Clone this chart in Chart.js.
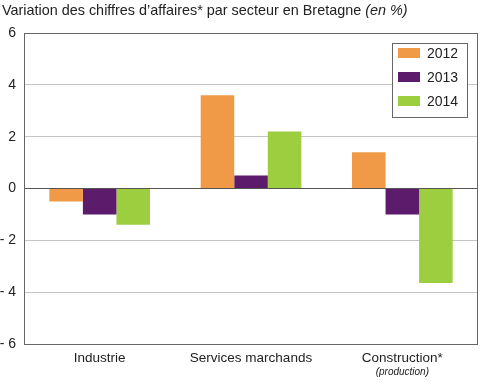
<!DOCTYPE html>
<html>
<head>
<meta charset="utf-8">
<script src="https://cdn.jsdelivr.net/npm/chart.js@4/dist/chart.umd.min.js"></script>
<style>
  html, body { margin: 0; padding: 0; background: #fff; }
  #wrap { width: 480px; height: 385px; position: relative; }
</style>
</head>
<body>
<div id="wrap"><canvas id="chart" width="480" height="385"></canvas></div>
<script>
const categories = ["Industrie", "Services marchands", "Construction*"];
const years = ["2012", "2013", "2014"];
const values2012 = [-0.5, 3.6, 1.4];
const values2013 = [-1.0, 0.5, -1.0];
const values2014 = [-1.4, 2.2, -3.65];
const colors = ["#f09a48", "#5c1b6b", "#9dce40"];
const yTicks = [-6, -4, -2, 0, 2, 4, 6];

const FONT = "'Liberation Sans', Arial, sans-serif";

const decor = {
  id: "decor",
  afterDraw(chart) {
    const ctx = chart.ctx;
    const a = chart.chartArea;
    ctx.save();
    // frame
    ctx.strokeStyle = "#666";
    ctx.lineWidth = 1;
    ctx.strokeRect(Math.round(a.left) + 0.5, Math.round(a.top) + 0.5,
      Math.round(a.right - a.left) - 1, Math.round(a.bottom - a.top));

    // title
    ctx.fillStyle = "#222";
    ctx.textBaseline = "middle";
    ctx.textAlign = "left";
    ctx.font = "14.4px " + FONT;
    const t = "Variation des chiffres d\u2019affaires* par secteur en Bretagne ";
    ctx.fillText(t, 2, 11);
    const w = ctx.measureText(t).width;
    ctx.font = "italic 14.4px " + FONT;
    ctx.fillText("(en %)", 2 + w, 11);

    // subtitle under Construction
    const x = chart.scales.x.getPixelForValue(2);
    ctx.textAlign = "center";
    ctx.font = "italic 10px " + FONT;
    ctx.fillText("(production)", x, 372);

    // legend box
    const lx = 392, ly = 43, lw = 75, lh = 74;
    ctx.fillStyle = "#fff";
    ctx.fillRect(lx, ly, lw, lh);
    ctx.strokeStyle = "#666";
    ctx.strokeRect(lx + 0.5, ly + 0.5, lw, lh);
    chart.data.datasets.forEach((ds, i) => {
      const yy = ly + 10 + i * 24;
      ctx.fillStyle = ds.backgroundColor;
      ctx.fillRect(lx + 6, yy - 5, 22, 10);
      ctx.fillStyle = "#222";
      ctx.textAlign = "left";
      ctx.font = "14px " + FONT;
      ctx.fillText(ds.label, lx + 35, yy + 1);
    });
    ctx.restore();
  }
};

new Chart(document.getElementById("chart"), {
  type: "bar",
  data: {
    labels: categories,
    datasets: [
      { label: years[0], data: values2012, backgroundColor: colors[0] },
      { label: years[1], data: values2013, backgroundColor: colors[1] },
      { label: years[2], data: values2014, backgroundColor: colors[2] }
    ]
  },
  options: {
    responsive: false,
    animation: false,
    layout: { padding: { top: 33, right: 2, left: 0, bottom: 0 } },
    datasets: { bar: { barPercentage: 1, categoryPercentage: 0.665 } },
    plugins: { legend: { display: false }, tooltip: { enabled: false } },
    scales: {
      x: {
        grid: { display: false },
        border: { display: false },
        ticks: { color: "#222", font: { family: FONT, size: 13.5 }, padding: -2, maxRotation: 0 },
        afterFit(s) { s.height = 41; }
      },
      y: {
        min: -6, max: 6,
        afterBuildTicks(s) { s.ticks = yTicks.map(v => ({ value: v })); },
        grid: {
          drawTicks: false,
          color: c => c.tick.value === 0 ? "#555" : (Math.abs(c.tick.value) === 6 ? "rgba(0,0,0,0)" : "#c4c4c4"),
          lineWidth: 1
        },
        border: { display: false },
        ticks: {
          color: "#222",
          font: { family: FONT, size: 14 },
          padding: 8,
          callback: v => v < 0 ? "- " + Math.abs(v) : String(v)
        },
        afterFit(s) { s.width = 24; }
      }
    }
  },
  plugins: [decor]
});
</script>
</body>
</html>
